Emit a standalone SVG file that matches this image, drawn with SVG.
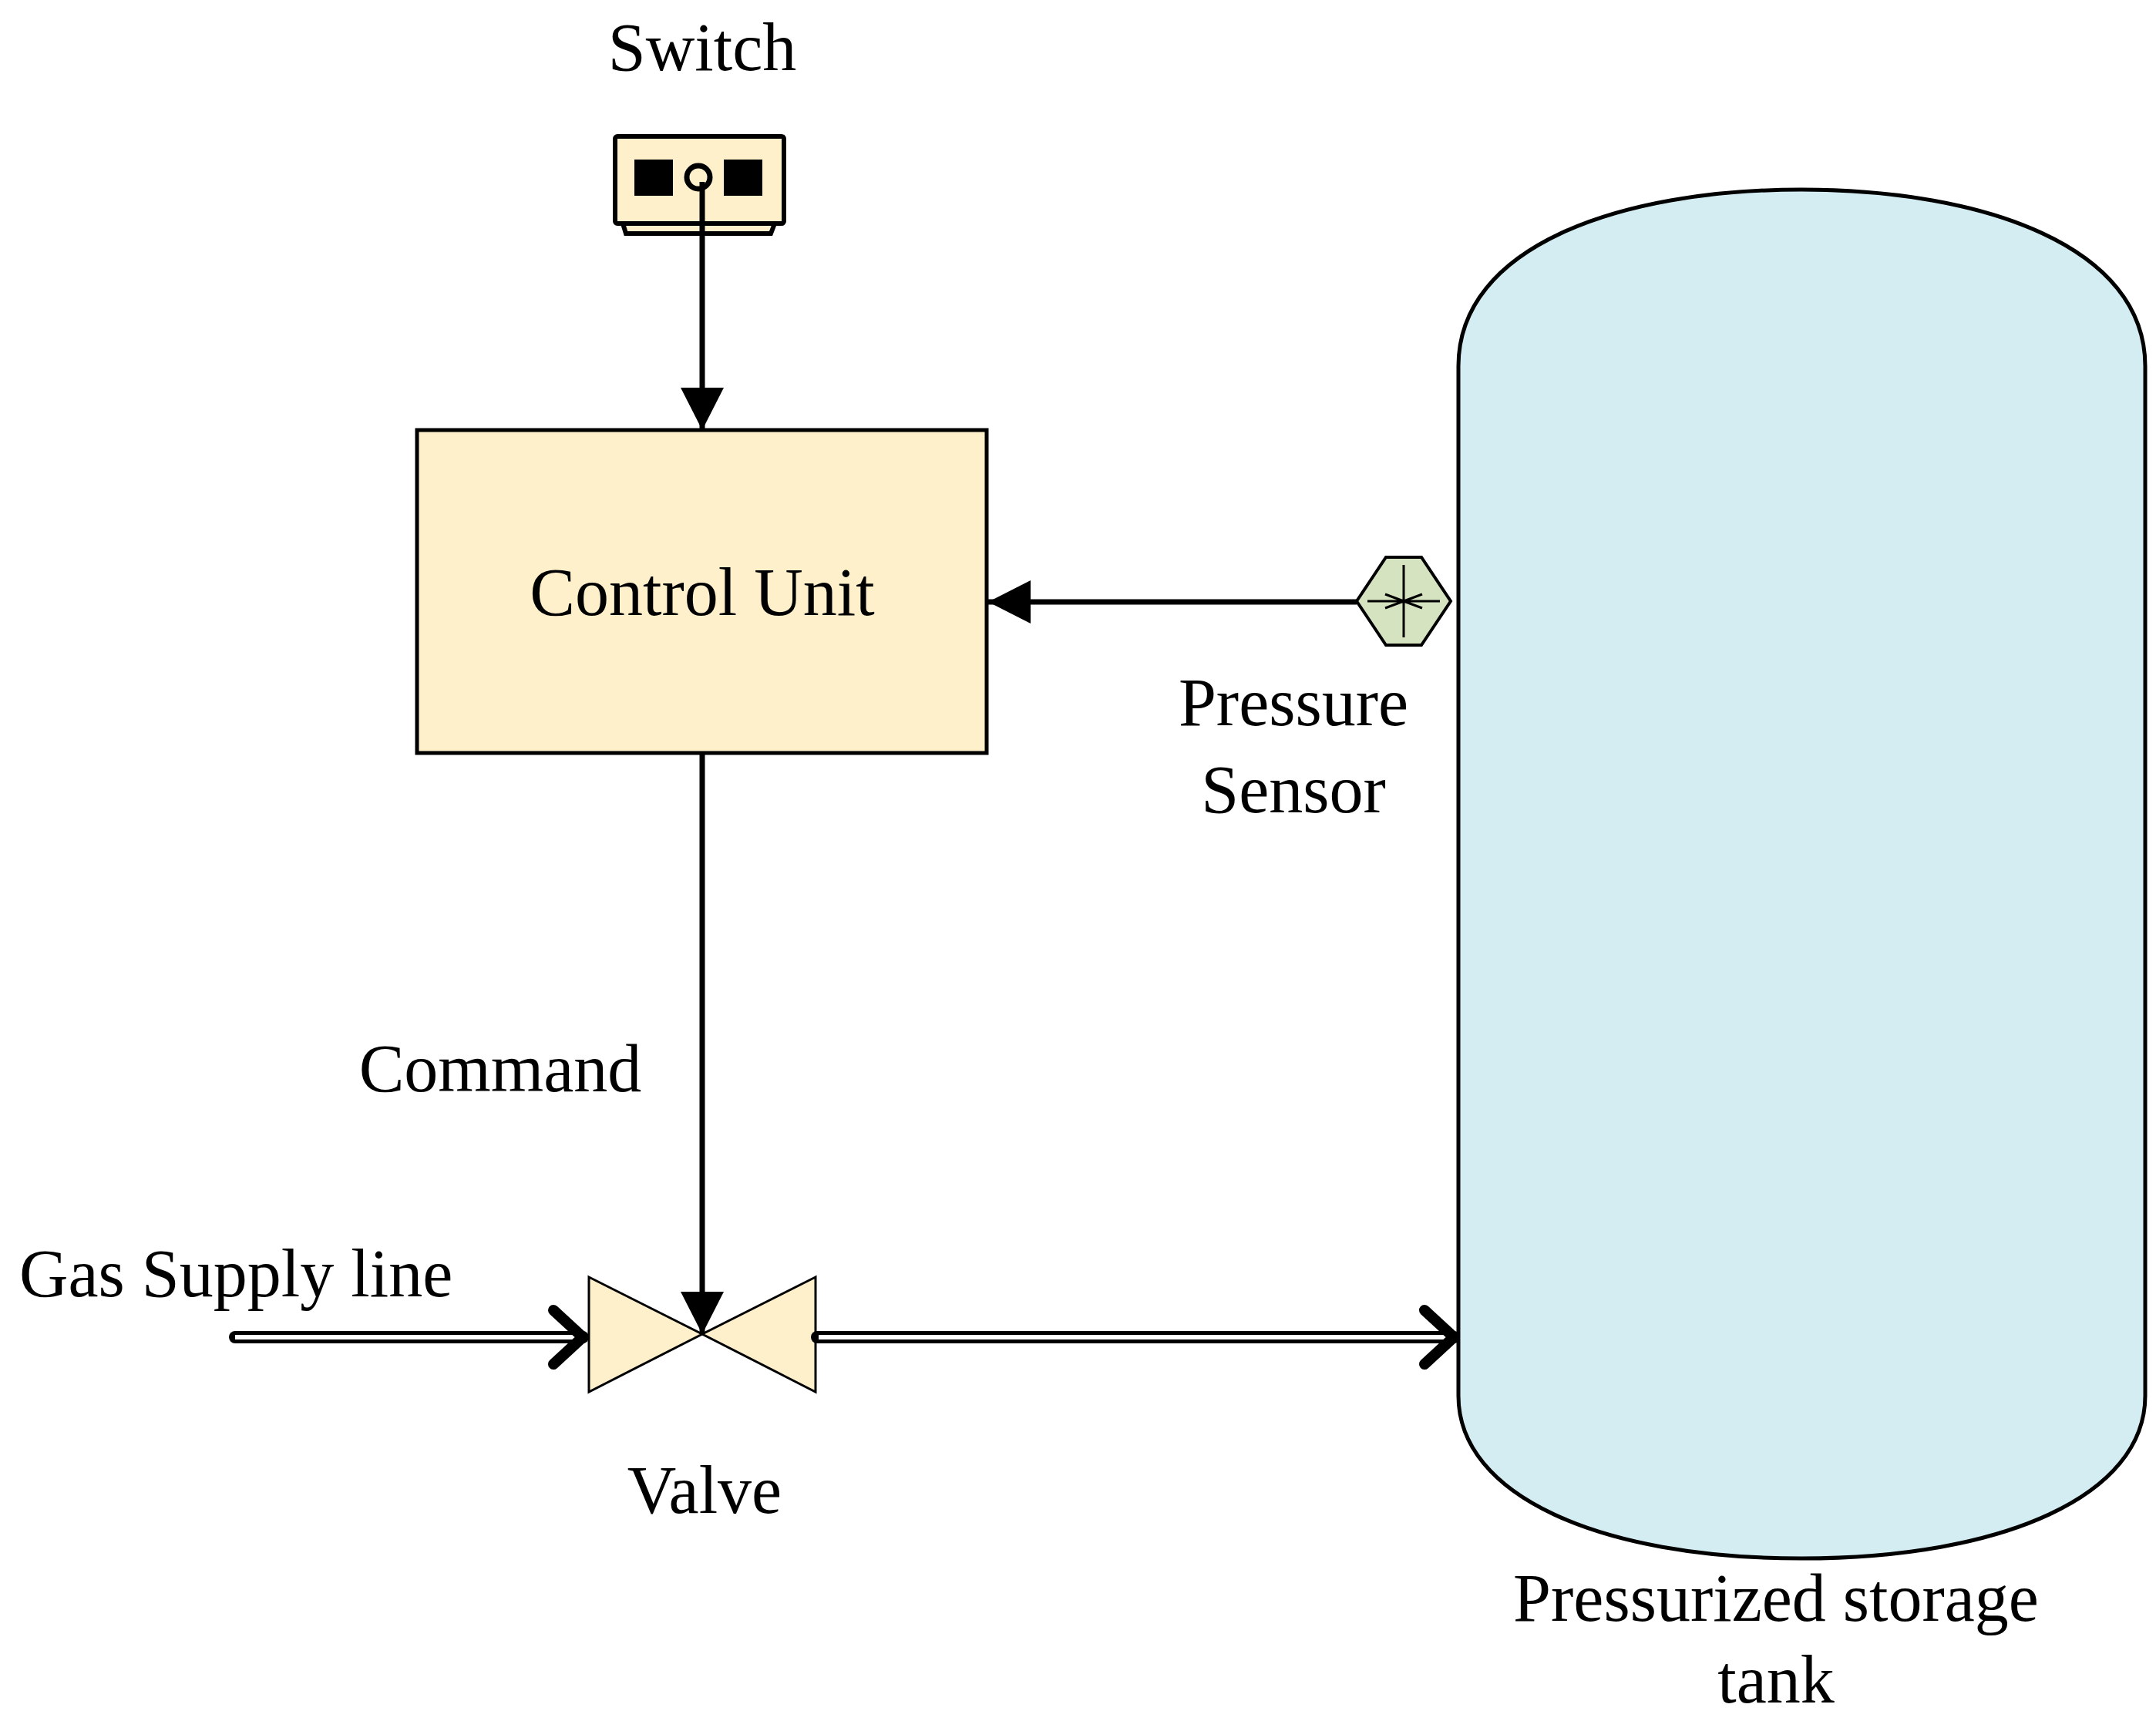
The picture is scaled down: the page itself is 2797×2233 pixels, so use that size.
<svg xmlns="http://www.w3.org/2000/svg" width="2797" height="2233" viewBox="0 0 2797 2233">
<style>
text{font-family:"Liberation Serif","DejaVu Serif",serif;font-size:88px;fill:#000}
.c{text-anchor:middle}
.ln{stroke:#000;stroke-width:7;fill:none}
</style>
<defs>
<marker id="ah" markerUnits="userSpaceOnUse" markerWidth="60" markerHeight="60" refX="55" refY="28" orient="auto"><path d="M0,0 L55,28 L0,56 Z" fill="#000"/></marker>
<marker id="chev" markerUnits="userSpaceOnUse" markerWidth="80" markerHeight="100" refX="70" refY="50" orient="auto"><path d="M30,15 L68,50 L30,85" fill="none" stroke="#000" stroke-width="14" stroke-linecap="round" stroke-linejoin="round"/></marker>
</defs>
<rect width="2797" height="2233" fill="#fff"/>
<g id="tank">
<path d="M1892,475 C1892,320 2100,246 2337,246 C2574,246 2783,320 2783,475 L2783,1811 C2783,1940 2600,2022 2337,2022 C2074,2022 1892,1940 1892,1811 Z" fill="#d4edf2" stroke="#000" stroke-width="5"/>
<text class="c" x="2304" y="2103">Pressurized storage</text>
<text class="c" x="2304" y="2209">tank</text>
</g>
<g id="switch">
<path d="M808,290 L812,303 L1000,303 L1005,290" fill="#fff0cc" stroke="#000" stroke-width="6"/>
<rect x="798" y="177" width="219" height="113" rx="3" fill="#fff0cc" stroke="#000" stroke-width="6"/>
<rect x="823" y="207" width="50" height="47" fill="#000"/>
<rect x="939" y="207" width="50" height="47" fill="#000"/>
<circle cx="906" cy="230" r="15" fill="none" stroke="#000" stroke-width="7"/>
<text class="c" x="911" y="91">Switch</text>
</g>
<g id="control">
<rect x="541" y="558" width="739" height="419" fill="#fff0cc" stroke="#000" stroke-width="5"/>
<text class="c" x="911" y="798">Control Unit</text>
</g>
<g id="sensor">
<polygon points="1760,780 1798,723 1844,723 1882,780 1844,837 1798,837" fill="#d5e3c0" stroke="#000" stroke-width="4"/>
<path d="M1774,780 H1868 M1821,733 V827 M1797,771 L1845,789 M1797,789 L1845,771" stroke="#000" stroke-width="3"/>
<text class="c" x="1678" y="941">Pressure</text>
<text class="c" x="1678" y="1054">Sensor</text>
</g>
<g id="valve">
<polygon points="764,1657 911,1731 764,1806" fill="#fff0cc" stroke="#000" stroke-width="3"/>
<polygon points="1058,1657 911,1731 1058,1806" fill="#fff0cc" stroke="#000" stroke-width="3"/>
<text class="c" x="914" y="1963">Valve</text>
</g>
<g id="connectors">
<line class="ln" x1="911" y1="236" x2="911" y2="558" marker-end="url(#ah)"/>
<line class="ln" x1="1760" y1="781" x2="1282" y2="781" marker-end="url(#ah)"/>
<line class="ln" x1="911" y1="977" x2="911" y2="1731" marker-end="url(#ah)"/>
<path d="M305,1735 H756" stroke="#000" stroke-width="16" stroke-linecap="round" fill="none"/>
<path d="M305,1735 H750" stroke="#fff" stroke-width="6" fill="none"/>
<path d="M305,1735 H758" stroke="none" fill="none" marker-end="url(#chev)"/>
<path d="M1060,1735 H1886" stroke="#000" stroke-width="16" stroke-linecap="round" fill="none"/>
<path d="M1062,1735 H1880" stroke="#fff" stroke-width="6" fill="none"/>
<path d="M1060,1735 H1888" stroke="none" fill="none" marker-end="url(#chev)"/>
<text x="25" y="1682">Gas Supply line</text>
<text class="c" x="649" y="1416">Command</text>
</g>
</svg>
